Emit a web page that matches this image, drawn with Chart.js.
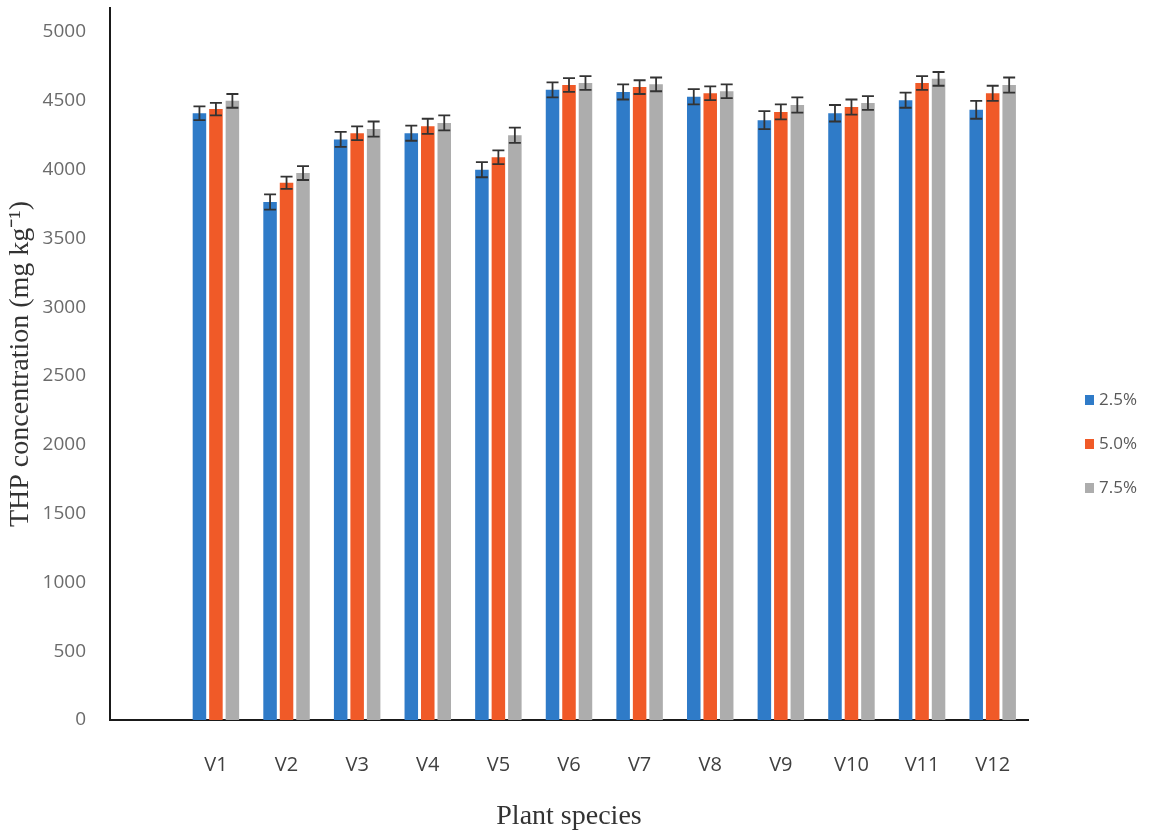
<!DOCTYPE html>
<html>
<head>
<meta charset="utf-8">
<title>THP concentration</title>
<script src="https://cdn.jsdelivr.net/npm/chart.js@4.4.1/dist/chart.umd.min.js"></script>
<style>
  html, body { margin: 0; padding: 0; background: #fff; }
  #wrap { width: 1149px; height: 833px; }
</style>
</head>
<body>
<div id="wrap"><canvas id="thpChart" width="1149" height="833"></canvas></div>
<script>
// --- data (first category is the empty slot Excel left) ---
const categories = ['', 'V1', 'V2', 'V3', 'V4', 'V5', 'V6', 'V7', 'V8', 'V9', 'V10', 'V11', 'V12'];
const seriesNames = ['2.5%', '5.0%', '7.5%'];
const thp25 = [null, 4410, 3765, 4220, 4265, 4000, 4580, 4565, 4530, 4360, 4410, 4505, 4435];
const thp50 = [null, 4440, 3905, 4265, 4315, 4090, 4615, 4600, 4555, 4420, 4455, 4630, 4555];
const thp75 = [null, 4500, 3975, 4295, 4340, 4250, 4630, 4620, 4570, 4470, 4485, 4660, 4615];
const err25 = [null, 50, 55, 55, 55, 55, 55, 55, 55, 65, 60, 55, 65];
const err50 = [null, 45, 45, 50, 55, 50, 50, 50, 50, 55, 55, 50, 55];
const err75 = [null, 50, 50, 55, 55, 55, 50, 50, 50, 55, 50, 50, 55];
const yTicks = [0, 500, 1000, 1500, 2000, 2500, 3000, 3500, 4000, 4500, 5000];

const colors = ['#2f7bc8', '#f05a28', '#adadad'];
const values = [thp25, thp50, thp75];
const errors = [err25, err50, err75];

Chart.defaults.font.family = "'Open Sans', sans-serif";

// error bars drawn through the y scale
const errorBars = {
    id: 'errorBars',
    afterDatasetsDraw(chart) {
        const ctx = chart.ctx;
        const y = chart.scales.y;
        ctx.save();
        ctx.strokeStyle = '#333';
        ctx.lineWidth = 1.8;
        chart.data.datasets.forEach((ds, i) => {
            const meta = chart.getDatasetMeta(i);
            meta.data.forEach((bar, j) => {
                const v = ds.data[j];
                const e = errors[i][j];
                if (v == null || e == null) return;
                const top = y.getPixelForValue(v + e);
                const bot = y.getPixelForValue(v - e);
                ctx.beginPath();
                ctx.moveTo(bar.x, top); ctx.lineTo(bar.x, bot);
                ctx.moveTo(bar.x - 6, top); ctx.lineTo(bar.x + 6, top);
                ctx.moveTo(bar.x - 6, bot); ctx.lineTo(bar.x + 6, bot);
                ctx.stroke();
            });
        });
        ctx.restore();
    }
};

// legend on the right, like the Excel one
const sideLegend = {
    id: 'sideLegend',
    afterDraw(chart) {
        const ctx = chart.ctx;
        ctx.save();
        ctx.font = "17px 'Open Sans', sans-serif";
        ctx.textBaseline = 'middle';
        chart.data.datasets.forEach((ds, i) => {
            const cy = 400 + i * 44;
            ctx.fillStyle = ds.backgroundColor;
            ctx.fillRect(1085, cy - 5, 9, 10);
            ctx.fillStyle = '#595959';
            ctx.fillText(ds.label, 1099, cy);
        });
        ctx.restore();
    }
};

new Chart(document.getElementById('thpChart'), {
    type: 'bar',
    data: {
        labels: categories,
        datasets: values.map((vals, i) => ({
            label: seriesNames[i],
            data: vals,
            backgroundColor: colors[i],
            borderWidth: 0,
            categoryPercentage: 0.7,
            barPercentage: 0.82
        }))
    },
    options: {
        responsive: false,
        animation: false,
        layout: { padding: { top: 8, right: 121, left: 0, bottom: 0 } },
        plugins: {
            legend: { display: false },
            tooltip: { enabled: false }
        },
        scales: {
            x: {
                grid: { display: false, drawTicks: false },
                border: { display: true, color: '#1a1a1a', width: 2 },
                ticks: { color: '#404040', font: { size: 20 }, padding: 33, maxRotation: 0 },
                title: {
                    display: true,
                    text: 'Plant species',
                    color: '#333',
                    font: { family: "'Liberation Serif', serif", size: 28 },
                    padding: { top: 0, bottom: 0 }
                },
                afterFit(scale) {
                    scale.height = 113;
                    scale.paddingLeft = 0;
                    scale.paddingRight = 0;
                }
            },
            y: {
                min: 0,
                max: 5175,
                grid: { display: false, drawTicks: false },
                border: { display: true, color: '#1a1a1a', width: 2 },
                ticks: {
                    color: '#6b6b6b',
                    font: { size: 19 },
                    padding: 24,
                    callback: v => String(v)
                },
                afterBuildTicks(scale) {
                    scale.ticks = yTicks.map(v => ({ value: v }));
                },
                title: {
                    display: true,
                    text: 'THP concentration (mg kg⁻¹)',
                    color: '#333',
                    font: { family: "'Liberation Serif', serif", size: 28 },
                    padding: { top: 4, bottom: 0 }
                },
                afterFit(scale) {
                    scale.width = 110;
                    scale.paddingTop = 0;
                    scale.paddingBottom = 0;
                }
            }
        }
    },
    plugins: [errorBars, sideLegend]
});
</script>
</body>
</html>
